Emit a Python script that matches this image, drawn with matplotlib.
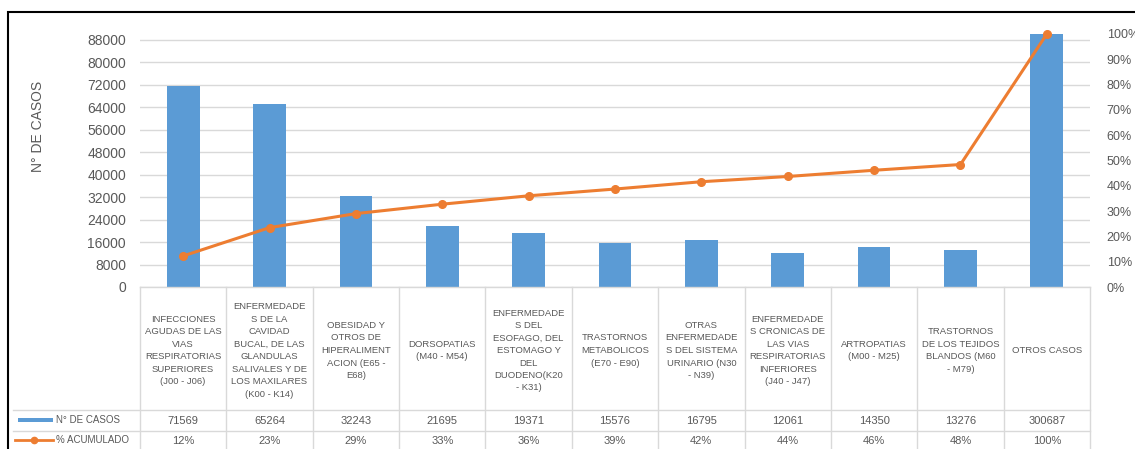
import matplotlib.pyplot as plt
import numpy as np
from matplotlib.patches import Rectangle
from matplotlib.lines import Line2D
from matplotlib.transforms import blended_transform_factory

plt.rcParams['font.family'] = ['Liberation Sans', 'DejaVu Sans']

# datos
categorias = [
    'INFECCIONES\nAGUDAS DE LAS\nVIAS\nRESPIRATORIAS\nSUPERIORES\n(J00 - J06)',
    'ENFERMEDADE\nS DE LA\nCAVIDAD\nBUCAL, DE LAS\nGLANDULAS\nSALIVALES Y DE\nLOS MAXILARES\n(K00 - K14)',
    'OBESIDAD Y\nOTROS DE\nHIPERALIMENT\nACION (E65 -\nE68)',
    'DORSOPATIAS\n(M40 - M54)',
    'ENFERMEDADE\nS DEL\nESOFAGO, DEL\nESTOMAGO Y\nDEL\nDUODENO(K20\n- K31)',
    'TRASTORNOS\nMETABOLICOS\n(E70 - E90)',
    'OTRAS\nENFERMEDADE\nS DEL SISTEMA\nURINARIO (N30\n- N39)',
    'ENFERMEDADE\nS CRONICAS DE\nLAS VIAS\nRESPIRATORIAS\nINFERIORES\n(J40 - J47)',
    'ARTROPATIAS\n(M00 - M25)',
    'TRASTORNOS\nDE LOS TEJIDOS\nBLANDOS (M60\n- M79)',
    'OTROS CASOS',
]
casos = [71569, 65264, 32243, 21695, 19371, 15576, 16795, 12061, 14350, 13276, 300687]
acumulado = [12.28, 23.47, 29.01, 32.73, 36.05, 38.72, 41.61, 43.68, 46.14, 48.41, 100.0]
ticks_casos = list(range(0, 88001, 8000))
ticks_pct = list(range(0, 101, 10))

AZUL = '#5B9BD5'
NARANJA = '#ED7D31'
GRIS = '#595959'
BORDE = '#D9D9D9'

W, H = 1135, 449
fig = plt.figure(figsize=(W / 100, H / 100), dpi=100)


def fy(py):
    # pixel contado desde arriba -> fraccion de figura
    return 1 - py / H


ax = fig.add_axes([140 / W, fy(287), 950 / W, (287 - 34) / H])
x = np.arange(len(casos))
ax.bar(x, casos, width=0.38, color=AZUL, zorder=2)
ax.set_xlim(-0.5, len(casos) - 0.5)
ax.set_ylim(0, 90000)
ax.set_yticks(ticks_casos)
ax.set_xticks([])
ax.grid(axis='y', color=BORDE, lw=1, zorder=0)
ax.tick_params(axis='y', length=0, pad=10, labelsize=10, labelcolor=GRIS)
for s in ax.spines.values():
    s.set_visible(False)

ax2 = ax.twinx()
ax2.plot(x, acumulado, color=NARANJA, lw=2.2, marker='o', ms=5.5, zorder=3, clip_on=False)
ax2.set_ylim(0, 100)
ax2.set_yticks(ticks_pct)
ax2.set_yticklabels([f'{t}%' for t in ticks_pct])
ax2.tick_params(axis='y', length=0, pad=12, labelsize=9, labelcolor=GRIS)
for s in ax2.spines.values():
    s.set_visible(False)

fig.text(38 / W, fy(126), 'N° DE CASOS', rotation=90, ha='center', va='center',
         fontsize=10, color=GRIS)

# tabla de datos debajo del grafico
tr = blended_transform_factory(ax.transData, fig.transFigure)
y_top, y_num, y_pct, y_bot = 287, 410, 431, 452
for b in np.arange(len(casos) + 1) - 0.5:
    fig.add_artist(Line2D([b, b], [fy(y_top), fy(y_bot)], transform=tr, color=BORDE, lw=1))
fig.add_artist(Line2D([-0.5, len(casos) - 0.5], [fy(y_top)] * 2, transform=tr, color=BORDE, lw=1))
for yy in (y_num, y_pct):
    fig.add_artist(Line2D([13 / W, 1090 / W], [fy(yy)] * 2, color=BORDE, lw=1))

for i, (cat, n, p) in enumerate(zip(categorias, casos, acumulado)):
    ax.text(i, fy((y_top + y_num) / 2 + 2), cat, transform=tr, ha='center', va='center',
            fontsize=6.8, color=GRIS, linespacing=1.5)
    ax.text(i, fy((y_num + y_pct) / 2), f'{n}', transform=tr, ha='center', va='center',
            fontsize=8, color=GRIS)
    ax.text(i, fy((y_pct + y_bot) / 2 - 1), f'{p:.0f}%', transform=tr, ha='center', va='center',
            fontsize=8, color=GRIS)

# claves de leyenda de la tabla
fig.add_artist(Rectangle((18 / W, fy(422)), 35 / W, 4 / H, color=AZUL, lw=0))
fig.add_artist(Line2D([15 / W, 34 / W, 53 / W], [fy(440)] * 3, color=NARANJA, lw=2,
                      marker='o', ms=4.5, markevery=[1]))
fig.text(56 / W, fy(420), 'N° DE CASOS', fontsize=7, color=GRIS, va='center')
fig.text(56 / W, fy(440), '% ACUMULADO', fontsize=7, color=GRIS, va='center')

# marco del grafico
fig.add_artist(Rectangle((8 / W, -0.1), 1.2, fy(12) + 0.1, fill=False, ec='black', lw=1.5))

fig.savefig('out.png', dpi=100)
